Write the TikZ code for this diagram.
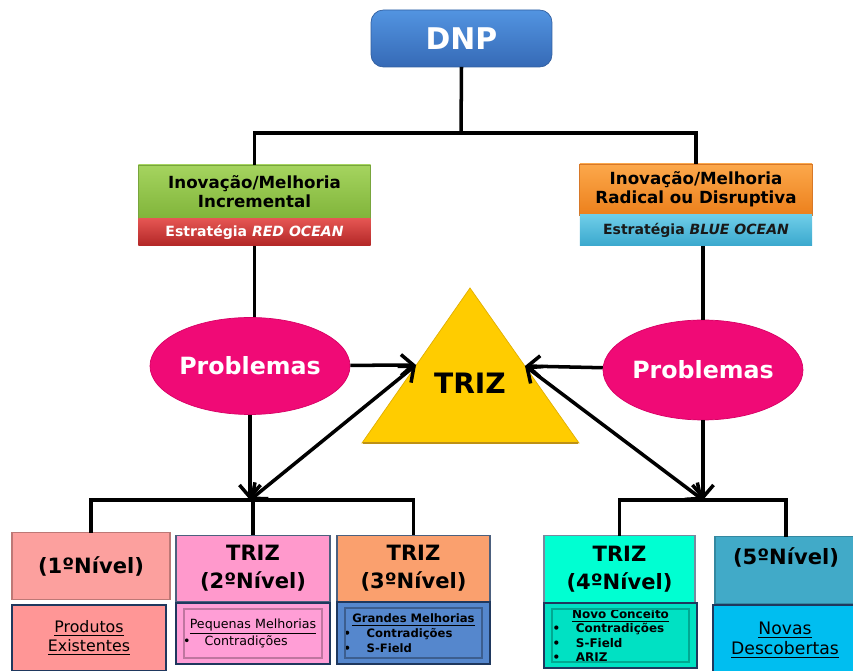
\documentclass[tikz,border=0pt]{standalone}
\usepackage{fontspec}
\setmainfont{DejaVu Sans}
\usetikzlibrary{positioning,shapes.geometric,arrows.meta}

\definecolor{navyline}{RGB}{31,56,94}
\definecolor{magentafill}{RGB}{240,10,118}
\definecolor{goldfill}{RGB}{255,204,0}
\definecolor{lvlone}{RGB}{252,160,158}
\definecolor{subone}{RGB}{255,150,150}
\definecolor{lvltwo}{RGB}{255,153,204}
\definecolor{subtwo}{RGB}{255,158,214}
\definecolor{lvlthree}{RGB}{250,160,110}
\definecolor{subthree}{RGB}{85,135,205}
\definecolor{lvlfour}{RGB}{0,255,210}
\definecolor{subfour}{RGB}{0,225,195}
\definecolor{lvlfive}{RGB}{65,170,200}
\definecolor{subfive}{RGB}{0,190,240}

\begin{document}
\begin{tikzpicture}[x=0.02cm,y=-0.02cm,
    line/.style={line width=2pt},
    arr/.style={line width=2pt,-{Straight Barb[length=7pt,width=12pt]}},
    darr/.style={line width=2pt,{Straight Barb[length=7pt,width=12pt]}-{Straight Barb[length=7pt,width=12pt]}},
    box/.style={rectangle,inner sep=2pt,outer sep=0pt,align=center},
    dnpbox/.style={box,rounded corners=7pt,minimum width=3.62cm,minimum height=1.14cm,
        top color={rgb,255:red,82;green,148;blue,225},bottom color={rgb,255:red,54;green,106;blue,182},
        draw={rgb,255:red,50;green,95;blue,160},text=white,font=\fontsize{17}{20}\selectfont\bfseries},
    topbox/.style={box,minimum width=4.65cm,font=\fontsize{9.5}{10.8}\selectfont\bfseries},
    stripbox/.style={box,minimum width=4.65cm,font=\fontsize{8}{9.6}\selectfont\bfseries},
    probbox/.style={ellipse,fill=magentafill,draw={rgb,255:red,215;green,0;blue,100},inner sep=0pt,
        minimum width=3.12cm,minimum height=1.94cm,text=white,font=\fontsize{13.5}{16}\selectfont\bfseries},
    lvlbox/.style={box,minimum height=1.33cm,line width=0.8pt,font=\fontsize{12}{16}\selectfont\bfseries},
    subbox/.style={box,anchor=north,draw=navyline,line width=1.5pt},
    bevel/.style={line width=0.8pt}
  ]
  \useasboundingbox (0,0) rectangle (853,671);

  % Top of the tree
  \node (dnp) [dnpbox] at (461.5,38.5) {DNP};
  \coordinate (topbus) at (461,133);

  \node (inc) [topbox,minimum height=1.08cm,
      top color={rgb,255:red,165;green,212;blue,95},bottom color={rgb,255:red,128;green,180;blue,58},
      draw={rgb,255:red,120;green,165;blue,60}] at (254.5,192) {Inovação/Melhoria\\Incremental};
  \node (red) [stripbox,minimum height=0.54cm,below=0pt of inc,text=white,
      top color={rgb,255:red,228;green,85;blue,82},bottom color={rgb,255:red,178;green,38;blue,38}]
      {Estratégia \textit{RED OCEAN}};

  \node (rad) [topbox,minimum height=1.02cm,
      top color={rgb,255:red,252;green,168;blue,75},bottom color={rgb,255:red,236;green,128;blue,28},
      draw={rgb,255:red,215;green,120;blue,40}] at (696,189.5) {Inovação/Melhoria\\Radical ou Disruptiva};
  \node (blu) [stripbox,minimum height=0.62cm,below=0pt of rad,text={rgb,255:red,25;green,25;blue,25},
      top color={rgb,255:red,110;green,205;blue,232},bottom color={rgb,255:red,58;green,168;blue,205}]
      {Estratégia \textit{BLUE OCEAN}};

  % Problemas and TRIZ
  \node (probL) [probbox] at (250,366) {Problemas};
  \node (probR) [probbox,minimum height=2cm] at (703,370) {Problemas};

  \filldraw[fill=goldfill,draw={rgb,255:red,225;green,175;blue,0}] (470,288) -- (579,443) -- (362,443) -- cycle;
  \draw[line width=1.5pt,draw={rgb,255:red,190;green,145;blue,20}] (363,443) -- (578,443);
  \node (triz) [font=\fontsize{16}{19}\selectfont\bfseries] at (470,383) {TRIZ};
  \coordinate (trL) at (416,365);
  \coordinate (trR) at (525,366);

  \coordinate (busL) at (250,500);
  \coordinate (busR) at (703,500);

  % Levels
  \node (n1) [lvlbox,minimum width=3.16cm,fill=lvlone,draw=lvlone!75!black] at (91,566) {(1ºNível)};
  \node (s1) [subbox,minimum width=3.08cm,minimum height=1.32cm,fill=subone,
      font=\fontsize{9}{10.6}\selectfont] at (89,605) {\underline{Produtos}\\\underline{Existentes}};

  \node (n2) [lvlbox,minimum width=3.08cm,fill=lvltwo,draw=navyline!80] at (253,568.5) {TRIZ\\(2ºNível)};
  \node (s2) [subbox,minimum width=3.08cm,minimum height=1.22cm,fill=subtwo,text width=2.8cm,align=left,
      font=\fontsize{7.2}{8.8}\selectfont] at (253,603)
      {\makebox[2.8cm]{\underline{Pequenas Melhorias}}\\\textbullet\hspace{8pt}Contradições};

  \node (n3) [lvlbox,minimum width=3.06cm,fill=lvlthree,draw=navyline!80] at (413.5,568.5) {TRIZ\\(3ºNível)};
  \node (s3) [subbox,minimum width=3.06cm,minimum height=1.24cm,fill=subthree,text width=2.8cm,align=left,
      font=\fontsize{6.6}{8.4}\selectfont\bfseries] at (413.5,602)
      {\makebox[2.8cm]{\underline{Grandes Melhorias}}\\\textbullet\hspace{9pt}Contradições\\\textbullet\hspace{9pt}S-Field};

  \node (n4) [lvlbox,minimum width=3.02cm,fill=lvlfour,draw=navyline!60] at (619.5,569) {TRIZ\\(4ºNível)};
  \node (s4) [subbox,minimum width=3.06cm,minimum height=1.3cm,fill=subfour,text width=2.72cm,align=left,
      font=\fontsize{6.8}{8.2}\selectfont\bfseries] at (620.5,603)
      {\makebox[2.72cm]{\underline{Novo Conceito}}\\\textbullet\hspace{9pt}Contradições\\\textbullet\hspace{9pt}S-Field\\\textbullet\hspace{9pt}ARIZ};

  \node (n5) [lvlbox,minimum width=2.84cm,fill=lvlfive,draw=lvlfive!80!black] at (786,570) {(5ºNível)\\\mbox{}};
  \node (s5) [subbox,minimum width=2.88cm,minimum height=1.4cm,fill=subfive,
      font=\fontsize{9.8}{11.4}\selectfont] at (785,605) {\underline{Novas}\\\underline{Descobertas}};

  % Bevels
  \draw[bevel,draw=subtwo!75!black] ([shift={(8,6)}]s2.north west) rectangle ([shift={(-8,-6)}]s2.south east);
  \draw[bevel,draw=subthree!70!black] ([shift={(8,6)}]s3.north west) rectangle ([shift={(-8,-6)}]s3.south east);
  \draw[bevel,draw=subfour!75!black] ([shift={(8,6)}]s4.north west) rectangle ([shift={(-8,-6)}]s4.south east);

  % Edges
  \draw[line] (dnp.south) -- (topbus);
  \draw[line] (inc.north) |- (topbus) -| (rad.north);
  \draw[line] (red.south) -- (red.south |- probL.north);
  \draw[line] (probR.north |- blu.south) -- (probR.north);

  \draw[arr] (probL) -- (trL);
  \draw[arr] (probR) -- (trR);
  \draw[arr] (probL) -- (busL);
  \draw[arr] (probR) -- (busR);
  \draw[darr] (trL) -- (busL);
  \draw[darr] (trR) -- (busR);

  \draw[line] (n1.north) |- (busL) -| (n3.north);
  \draw[line] (n2.north |- busL) -- (n2.north);
  \draw[line] (n4.north) |- (busR) -| (n5.north);
\end{tikzpicture}
\end{document}
